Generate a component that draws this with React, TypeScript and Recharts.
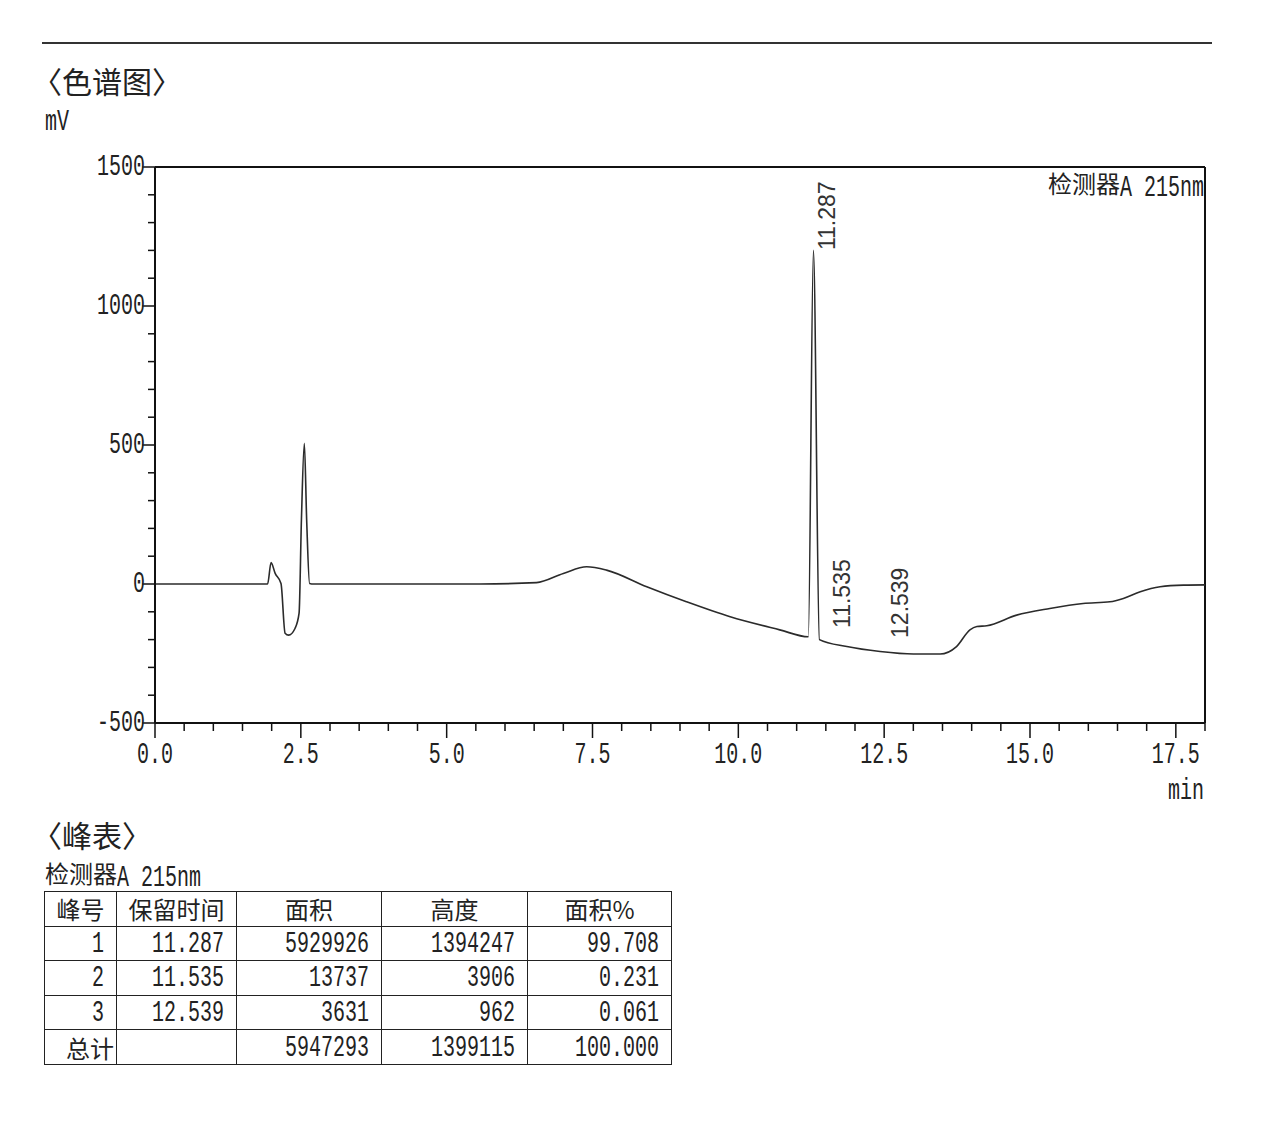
import { ComposedChart, Line, Scatter, XAxis, YAxis, ReferenceLine } from 'recharts'

// chromatogram trace (min, mV)
const times = [
  0, 1.93, 1.99, 2.06, 2.16, 2.23, 2.29, 2.4, 2.47, 2.51, 2.56, 2.6, 2.65, 2.72,
  5.57, 6.54, 7.0, 7.4, 7.74, 8.43, 9.11, 9.86, 10.71, 11.2, 11.287, 11.39,
  11.86, 12.43, 13.0, 13.46, 13.74, 13.97, 14.09, 14.26, 14.77, 15.34, 15.91,
  16.37, 16.6, 16.89, 17.23, 17.63, 18.0,
]
const signal = [
  0, 0, 77, 38, 2, -177, -184, -160, -105, 230, 506, 230, 2, 0,
  0, 5, 38, 62, 50, -10, -64, -118, -165, -190, 1200, -200,
  -225, -243, -252, -252, -225, -165, -153, -150, -112, -88, -70,
  -64, -52, -28, -10, -4, -3,
]

// peak table
const peakNos = ['1', '2', '3']
const retTimes = [11.287, 11.535, 12.539]
const areas = [5929926, 13737, 3631]
const heights = [1394247, 3906, 962]
const areaPct = [99.708, 0.231, 0.061]
const totalArea = 5947293
const totalHeight = 1399115
const totalPct = 100.0
const headers = ['峰号', '保留时间', '面积', '高度', '面积%']

// where the rotated retention-time labels sit (mV)
const labelLevels = [1201, -158, -194]

const xMajor = [0, 2.5, 5, 7.5, 10, 12.5, 15, 17.5]
const yMajor = [-500, 0, 500, 1000, 1500]
const xTicks = Array.from({ length: 37 }, (_, i) => i * 0.5)
const yTicks = Array.from({ length: 21 }, (_, i) => -500 + i * 100)

const trace = times.map((t, i) => ({ t, v: signal[i] }))
const peakLabels = retTimes.map((t, i) => ({ t, v: labelLevels[i], label: t.toFixed(3) }))

const MONO = '"Liberation Mono", "Noto Sans CJK SC", monospace'
const CJK = '"Noto Sans CJK SC", sans-serif'
const INK = '#222'

const tall: React.CSSProperties = { display: 'inline-block', transform: 'scaleY(1.5)', transformOrigin: 'center' }

function XTick({ x, y, payload }: any) {
  const v = payload.value
  const major = xMajor.includes(v)
  return (
    <g>
      <line x1={x} y1={y} x2={x} y2={y + (major ? 15 : 8)} stroke="#111" strokeWidth={1.5} />
      {major && (
        <text transform={`translate(${x},${y + 40}) scale(1,1.5)`} textAnchor="middle"
          fontFamily={MONO} fontSize={20} fill={INK}>{v.toFixed(1)}</text>
      )}
    </g>
  )
}

function YTick({ x, y, payload }: any) {
  const v = payload.value
  const major = yMajor.includes(v)
  return (
    <g>
      <line x1={x - (major ? 13 : 7)} y1={y} x2={x} y2={y} stroke="#111" strokeWidth={1.5} />
      {major && (
        <text transform={`translate(${x - 10},${y + 8}) scale(1,1.5)`} textAnchor="end"
          fontFamily={MONO} fontSize={20} fill={INK}>{v}</text>
      )}
    </g>
  )
}

function PeakLabel({ cx, cy, payload }: any) {
  return (
    <text transform={`translate(${cx + 22},${cy}) rotate(-90)`} fontFamily='"Liberation Sans", Arial, sans-serif'
      fontSize={23} fill="#333">{payload.label}</text>
  )
}

const colW = [72, 120, 145, 146, 144]

function Cell({ children, align, col, header }: any) {
  return (
    <div style={{
      borderRight: '1.5px solid #222', borderBottom: '1.5px solid #222', display: 'flex', alignItems: 'center',
      justifyContent: align === 'center' ? 'center' : 'flex-end', paddingRight: align === 'center' ? 0 : (col === 0 && header ? 2 : 12),
      boxSizing: 'border-box', fontSize: 20, color: '#222', overflow: 'hidden',
    }}>{children}</div>
  )
}

export default function App() {
  const bodyRows = peakNos.map((n, i) => [n, retTimes[i].toFixed(3), String(areas[i]), String(heights[i]), areaPct[i].toFixed(3)])
  return (
    <div style={{ position: 'absolute', left: 0, top: 0, width: 1282, height: 1135, background: '#fff', fontFamily: MONO, color: INK }}>
      <div style={{ position: 'absolute', left: 42, top: 42, width: 1170, height: 2, background: '#333' }} />
      <div style={{ position: 'absolute', left: 32, top: 64, fontFamily: CJK, fontSize: 30, lineHeight: '32px' }}>〈色谱图〉</div>
      <div style={{ position: 'absolute', left: 45, top: 112, fontSize: 20, lineHeight: '20px' }}><span style={tall}>mV</span></div>

      <ComposedChart width={1282} height={820} data={trace} style={{ position: 'absolute', left: 0, top: 0 }}
        margin={{ top: 167, right: 77, left: 85, bottom: 27 }}>
        <XAxis dataKey="t" type="number" domain={[0, 18]} ticks={xTicks} interval={0} allowDataOverflow
          height={70} tickSize={0} tickMargin={0} tickLine={false} tick={<XTick />}
          axisLine={{ stroke: '#111', strokeWidth: 2 }} />
        <YAxis type="number" domain={[-500, 1500]} ticks={yTicks} interval={0} allowDataOverflow
          width={70} tickSize={0} tickMargin={0} tickLine={false} tick={<YTick />}
          axisLine={{ stroke: '#111', strokeWidth: 2 }} />
        <ReferenceLine y={1500} stroke="#111" strokeWidth={2} />
        <ReferenceLine x={18} stroke="#111" strokeWidth={2} />
        <Line dataKey="v" type="monotone" stroke="#2b2b2b" strokeWidth={1.6} dot={false} isAnimationActive={false} />
        <Scatter data={peakLabels} dataKey="v" shape={<PeakLabel />} isAnimationActive={false} />
      </ComposedChart>

      <div style={{ position: 'absolute', right: 1282 - 1204, top: 171, whiteSpace: 'nowrap', lineHeight: '24px' }}>
        <span style={{ fontFamily: CJK, fontSize: 24 }}>检测器</span><span style={{ ...tall, fontSize: 20 }}>A 215nm</span>
      </div>
      <div style={{ position: 'absolute', left: 1168, top: 781, fontSize: 20, lineHeight: '20px' }}><span style={tall}>min</span></div>

      <div style={{ position: 'absolute', left: 32, top: 818, fontFamily: CJK, fontSize: 30, lineHeight: '32px' }}>〈峰表〉</div>
      <div style={{ position: 'absolute', left: 45, top: 860, whiteSpace: 'nowrap', lineHeight: '26px' }}>
        <span style={{ fontFamily: CJK, fontSize: 24 }}>检测器</span><span style={{ ...tall, fontSize: 20 }}>A 215nm</span>
      </div>

      <div style={{
        position: 'absolute', left: 44, top: 891, display: 'grid', gridTemplateColumns: colW.map(w => `${w}px`).join(' '),
        gridAutoRows: '34.6px', borderTop: '1.5px solid #222', borderLeft: '1.5px solid #222',
      }}>
        {headers.map((h, j) => (
          <Cell key={'h' + j} align="center"><span style={{ fontFamily: CJK, fontSize: 24 }}>{h}</span></Cell>
        ))}
        {bodyRows.map((r, i) => r.map((c, j) => (
          <Cell key={i + '-' + j} col={j}><span style={tall}>{c}</span></Cell>
        )))}
        <Cell col={0} header><span style={{ fontFamily: CJK, fontSize: 24 }}>总计</span></Cell>
        <Cell col={1}><span /></Cell>
        <Cell col={2}><span style={tall}>{totalArea}</span></Cell>
        <Cell col={3}><span style={tall}>{totalHeight}</span></Cell>
        <Cell col={4}><span style={tall}>{totalPct.toFixed(3)}</span></Cell>
      </div>
    </div>
  )
}
